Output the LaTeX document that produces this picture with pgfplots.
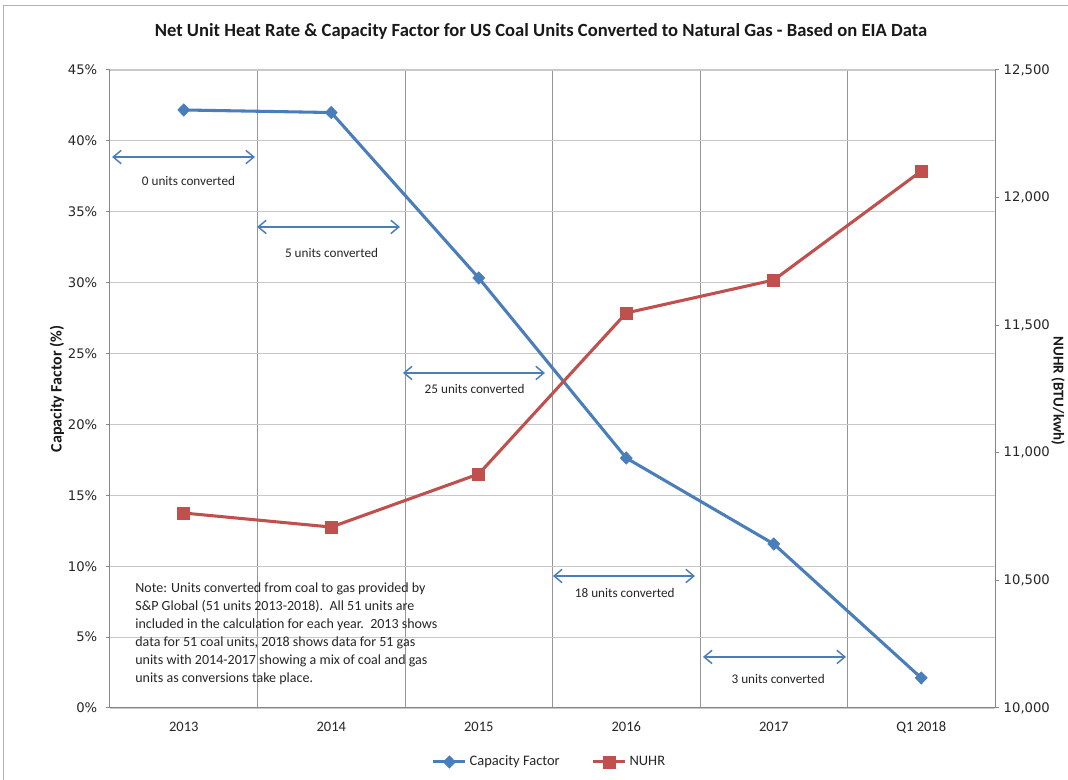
\documentclass[border=0pt]{standalone}
\usepackage{fontspec}
\setmainfont{Carlito}
\newfontfamily\tickfont{DejaVu Sans}
\usepackage{pgfplots}
\pgfplotsset{compat=1.18}
\usetikzlibrary{arrows.meta}

\definecolor{cfblue}{RGB}{74,126,187}
\definecolor{hrred}{RGB}{192,80,77}
\definecolor{hgrid}{RGB}{200,200,200}
\definecolor{vgrid}{RGB}{150,150,150}
\definecolor{axisgray}{RGB}{134,134,134}

% 1 unit = 1 px at 0.75pt
\newcommand{\pxfont}[1]{\fontsize{\fpeval{0.75*#1}}{\fpeval{0.9*#1}}\selectfont}

\pgfplotsset{
  base/.style={
    at={(O)}, anchor=south west,
    scale only axis, width=663.75pt, height=478.5pt,
    xmin=-0.5, xmax=5.5,
    tick align=outside,
    major tick length=3pt,
    axis line style={axisgray, line width=0.75pt},
    tick style={axisgray, line width=0.75pt},
    /pgf/number format/assume math mode=true,
    y tick label style={font=\tickfont\pxfont{13.2}, text=black!85},
    x tick label style={font=\pxfont{14.5}, text=black!85},
  },
  cfstyle/.style={cfblue, line width=2.3pt, mark=diamond*, mark size=4.6pt,
    mark options={fill=cfblue, draw=cfblue, line width=0.5pt, xscale=1.3}},
  hrstyle/.style={hrred, line width=2.3pt, mark=square*, mark size=4.5pt,
    mark options={fill=hrred, draw=hrred, line width=0.5pt}},
}
\tikzset{
  annot/.style={cfblue, line width=1.1pt,
    {Straight Barb[length=6pt,width=10pt,line width=1.1pt]}-{Straight Barb[length=6pt,width=10pt,line width=1.1pt]}},
  annotlabel/.style={font=\pxfont{13.2}, text=black!85, inner sep=0pt},
}

\begin{document}
\begin{tikzpicture}[x=0.75pt, y=0.75pt]
\useasboundingbox (0,0) rectangle (1068,780);
\fill[white] (0,0) rectangle (1068,780);
\draw[gray!60, line width=0.75pt] (3,0) |- (1068,774);
\coordinate (O) at (110,72);

\node[font=\bfseries\pxfont{18.6}, text=black!90] at (541,749)
  {Net Unit Heat Rate \& Capacity Factor for US Coal Units Converted to Natural Gas - Based on EIA Data};

% Capacity factor (left axis)
\begin{axis}[base,
  ymin=0, ymax=45, ytick={0,5,...,45},
  yticklabel={\pgfmathprintnumber{\tick}\%},
  yticklabel style={xshift=-3pt},
  xtick={0,...,5},
  xticklabels={2013,2014,2015,2016,2017,Q1 2018},
  x tick style={draw=none},
  minor xtick={0.5,1.5,2.5,3.5,4.5},
  minor x tick style={draw=none},
  xminorgrids, ymajorgrids,
  major grid style={hgrid, line width=0.9pt},
  minor grid style={vgrid, line width=0.75pt},
  axis y line*=left, axis x line*=bottom,
  ylabel={Capacity Factor (\%)},
  ylabel style={font=\bfseries\pxfont{16}, text=black!90},
  ylabel shift=-4pt,
  xticklabel shift=4pt,
  clip=false,
]
\addplot[cfstyle]
  coordinates {(0,42.18) (1,42.00) (2,30.33) (3,17.63) (4,11.57) (5,2.12)};

% conversion periods
\draw[annot] (axis cs:-0.486,38.86) -- (axis cs:0.483,38.86);
\node[annotlabel] at (axis cs:0.032,37.17) {0 units converted};
\draw[annot] (axis cs:0.497,33.93) -- (axis cs:1.466,33.93);
\node[annotlabel] at (axis cs:1.002,32.09) {5 units converted};
\draw[annot] (axis cs:1.486,23.63) -- (axis cs:2.449,23.63);
\node[annotlabel] at (axis cs:1.972,22.50) {25 units converted};
\draw[annot] (axis cs:2.503,9.31) -- (axis cs:3.466,9.31);
\node[annotlabel] at (axis cs:2.99,8.11) {18 units converted};
\draw[annot] (axis cs:3.520,3.60) -- (axis cs:4.490,3.60);
\node[annotlabel] at (axis cs:4.03,2.05) {3 units converted};

\node[anchor=north west, align=left, inner sep=0pt,
  font=\fontsize{10.5}{13.5}\selectfont, text=black!85]
  at (axis cs:-0.33,8.85)
  {Note: Units converted from coal to gas provided by\\
   S\&P Global (51 units 2013-2018).\ \ All 51 units are\\
   included in the calculation for each year.\ \ 2013 shows\\
   data for 51 coal units, 2018 shows data for 51 gas\\
   units with 2014-2017 showing a mix of coal and gas\\
   units as conversions take place.};
\end{axis}

% Net unit heat rate (right axis)
\begin{axis}[base,
  ymin=10000, ymax=12500, ytick={10000,10500,...,12500},
  scaled y ticks=false,
  yticklabel style={/pgf/number format/.cd, fixed, precision=0, 1000 sep={,}},
  axis y line*=right, axis x line=none,
  xtick=\empty,
  legend style={at={(0.497,-0.0846)}, anchor=center, draw=none,
    legend columns=2, font=\pxfont{14.5}, text=black!85,
    /tikz/every even column/.append style={column sep=22pt},
    inner sep=0pt},
  legend cell align=left,
  legend image code/.code={
    \draw[#1, mark repeat=2, mark phase=2] plot coordinates {(0pt,0pt) (12pt,0pt) (24pt,0pt)};},
]
\addlegendimage{cfstyle}
\addlegendentry{Capacity Factor}
\addplot[hrstyle]
  coordinates {(0,10764) (1,10709) (2,10917) (3,11548) (4,11677) (5,12104)};
\addlegendentry{NUHR}
\end{axis}

\node[rotate=-90, font=\bfseries\pxfont{15}, text=black!90] at (1058,389) {NUHR (BTU/kwh)};
\end{tikzpicture}
\end{document}
